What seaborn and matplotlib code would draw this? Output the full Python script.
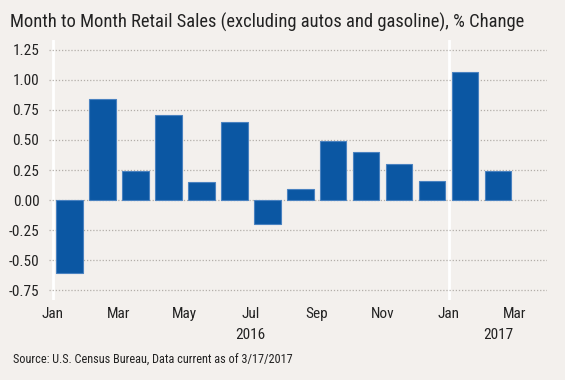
import matplotlib
matplotlib.use("Agg")
import matplotlib.pyplot as plt
import seaborn as sns
import pandas as pd

# data
months = ["2016-01", "2016-02", "2016-03", "2016-04", "2016-05", "2016-06", "2016-07",
          "2016-08", "2016-09", "2016-10", "2016-11", "2016-12", "2017-01", "2017-02"]
pct_change = [-0.61, 0.84, 0.24, 0.71, 0.15, 0.65, -0.20,
              0.09, 0.49, 0.40, 0.30, 0.16, 1.07, 0.24]
tick_labels = ["Jan", "Mar", "May", "Jul", "Sep", "Nov", "Jan", "Mar"]
y_ticks = [1.25, 1.00, 0.75, 0.50, 0.25, 0.00, -0.25, -0.50, -0.75]

bg = "#f3f0ed"
bar_color = "#0b57a3"

sns.set_style("white")
plt.rcParams["font.family"] = ["Roboto Condensed", "Roboto", "DejaVu Sans"]

dates = pd.to_datetime(months)
df = pd.DataFrame({
    "pos": (dates.year - 2016) * 12 + dates.month - 1 + 0.5,  # bar in the middle of its month
    "pct": pct_change,
})

fig = plt.figure(figsize=(5.65, 3.8), dpi=100, facecolor=bg)
ax = fig.add_axes([49 / 565, 80 / 380, 498 / 565, 260 / 380])
ax.set_facecolor(bg)

sns.barplot(data=df, x="pos", y="pct", native_scale=True, width=0.8,
            color=bar_color, edgecolor="#4a82c0", linewidth=0.8, saturation=1, ax=ax)

ax.set_xlim(-0.12, 14.98)
ax.set_ylim(-0.833, 1.333)
ax.set_yticks(y_ticks)
ax.set_yticklabels([f"{v:.2f}" for v in y_ticks])
ax.set_xticks(range(0, 16, 2))
ax.set_xticklabels(tick_labels)
ax.tick_params(length=0, labelsize=11, colors="#222222")
ax.tick_params(axis="y", pad=7)
ax.tick_params(axis="x", pad=5)
ax.set_xlabel("")
ax.set_ylabel("")
ax.grid(axis="y", color="#b3aea9", linestyle=(0, (1, 1.5)), linewidth=0.9)
ax.set_axisbelow(True)
for s in ax.spines.values():
    s.set_visible(False)

ax.axvline(0, color="white", lw=2, zorder=0.5)
ax.axvline(12, color="white", lw=2, zorder=0.5)

ax.text(6, -1.07, "2016", ha="center", va="top", fontsize=11, color="#222222")
ax.text(13.5, -1.07, "2017", ha="center", va="top", fontsize=11, color="#222222")

fig.text(10 / 565, 1 - 22 / 380, "Month to Month Retail Sales (excluding autos and gasoline), % Change",
         ha="left", va="center", fontsize=13.3, color="#222222")
fig.text(13 / 565, 1 - 360 / 380, "Source: U.S. Census Bureau, Data current as of 3/17/2017",
         ha="left", va="center", fontsize=8.8, color="#222222")

fig.savefig("out.png", dpi=100, facecolor=bg)
